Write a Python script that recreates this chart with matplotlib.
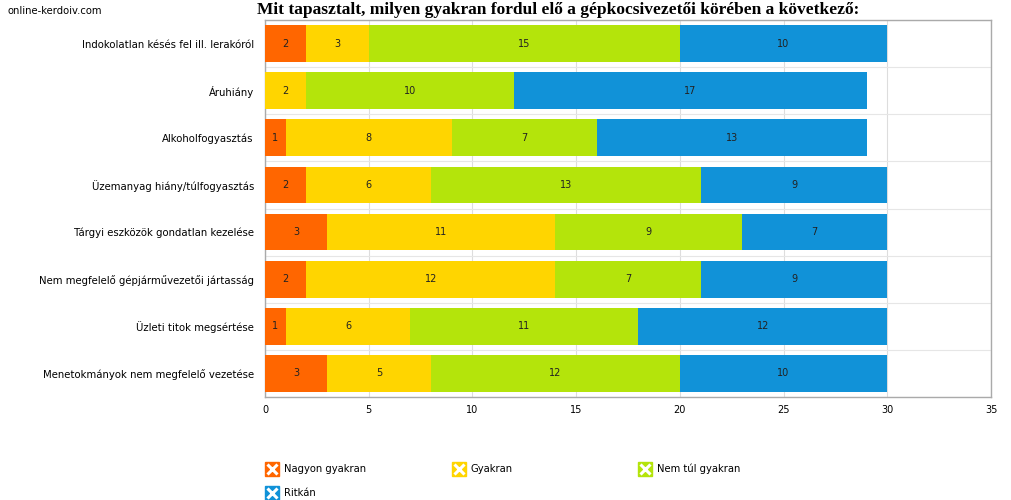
import matplotlib
matplotlib.use("Agg")
import matplotlib.pyplot as plt
from matplotlib.lines import Line2D
import numpy as np

categories = [
    "Indokolatlan késés fel ill. lerakóról",
    "Áruhiány",
    "Alkoholfogyasztás",
    "Üzemanyag hiány/túlfogyasztás",
    "Tárgyi eszközök gondatlan kezelése",
    "Nem megfelelő gépjárművezetői jártasság",
    "Üzleti titok megsértése",
    "Menetokmányok nem megfelelő vezetése",
]
series_names = ["Nagyon gyakran", "Gyakran", "Nem túl gyakran", "Ritkán"]
nagyon_gyakran = [2, 0, 1, 2, 3, 2, 1, 3]
gyakran = [3, 2, 8, 6, 11, 12, 6, 5]
nem_tul_gyakran = [15, 10, 7, 13, 9, 7, 11, 12]
ritkan = [10, 17, 13, 9, 7, 9, 12, 10]
x_ticks = [0, 5, 10, 15, 20, 25, 30, 35]
title = "Mit tapasztalt, milyen gyakran fordul elő a gépkocsivezetői körében a következő:"
watermark = "online-kerdoiv.com"

colors = ["#FF6600", "#FFD500", "#B4E40B", "#1192D8"]
series = [nagyon_gyakran, gyakran, nem_tul_gyakran, ritkan]

plt.rcParams['font.family'] = ['DejaVu Sans']
fig = plt.figure(figsize=(10.12, 5.0), dpi=100)
ax = fig.add_axes([265/1012, 1 - 397/500, (991-265)/1012, (397-20)/500])

y = np.arange(len(categories))
left = np.zeros(len(categories))
for vals, col in zip(series, colors):
    vals = np.array(vals, dtype=float)
    ax.barh(y, vals, left=left, height=0.78, color=col, zorder=3)
    for yi, (l, v) in enumerate(zip(left, vals)):
        if v > 0:
            ax.text(l + v / 2, yi, f"{int(v)}", ha="center", va="center",
                    fontsize=7, color="#222222", zorder=4)
    left += vals

ax.set_xlim(0, 35)
ax.set_ylim(len(categories) - 0.5, -0.5)
ax.set_xticks(x_ticks)
ax.set_xticklabels([str(t) for t in x_ticks], fontsize=7)
ax.set_yticks(y)
ax.set_yticklabels(categories, fontsize=7.3)
ax.set_yticks(np.arange(len(categories) + 1) - 0.5, minor=True)
ax.tick_params(axis="both", which="both", length=0)
ax.tick_params(axis="y", pad=8)
ax.tick_params(axis="x", pad=6)
ax.grid(axis="x", color="#dddddd", linewidth=0.8, zorder=0)
ax.grid(axis="y", which="minor", color="#e6e6e6", linewidth=0.8, zorder=0)
ax.grid(axis="y", which="major", visible=False)
for s in ax.spines.values():
    s.set_color("#aaaaaa")
    s.set_linewidth(1)

fig.text(558/1012, 1 - 10/500, title, ha="center", va="center",
         fontsize=12.5, fontweight="bold", family="Liberation Serif")
fig.text(8/1012, 1 - 11/500, watermark, ha="left", va="center", fontsize=7.2)

positions = [(265, 469), (452, 469), (638, 469), (265, 493)]
for name, col, (px, py) in zip(series_names, colors, positions):
    h = (Line2D([], [], marker="s", color=col, markersize=10, linestyle="none"),
         Line2D([], [], marker="x", color="white", markersize=6.5, markeredgewidth=2.2,
                linestyle="none"))
    fig.legend([h], [name], loc="center left",
               bbox_to_anchor=(px/1012, 1 - py/500), frameon=False,
               fontsize=7.2, handlelength=1.4, handletextpad=0.5,
               borderpad=0, borderaxespad=0)

fig.savefig("out.png", dpi=100)
